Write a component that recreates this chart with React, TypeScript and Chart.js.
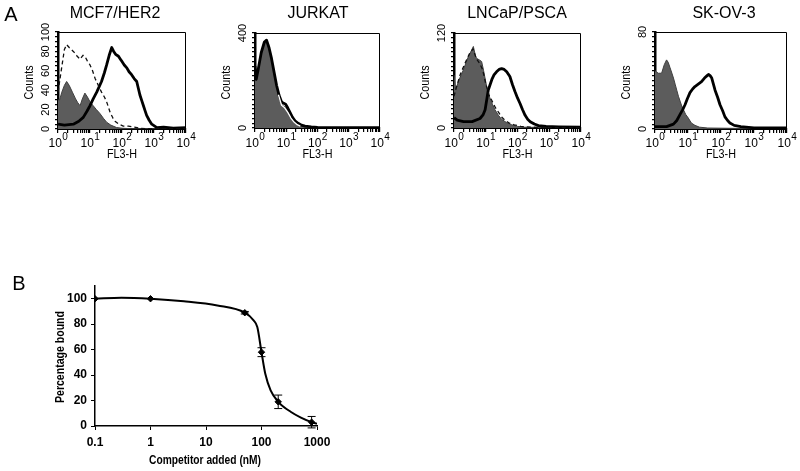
import React, { useEffect, useRef } from 'react';
import { Chart, registerables } from 'chart.js';
Chart.register(...registerables);

const SANS = '"Liberation Sans", Arial, Helvetica, sans-serif';
const NARROW = '"Liberation Sans Narrow", "Arial Narrow", "Liberation Sans", Arial, sans-serif';

// ---------- Panel A : FL3-H (log10 decades) vs counts ----------
const decadeLabels = ['0', '1', '2', '3', '4'];

// MCF7/HER2
const mcfFillX = [0, 0.05, 0.12, 0.2, 0.27, 0.35, 0.45, 0.55, 0.62, 0.69, 0.76, 0.84, 0.92, 1.0, 1.1, 1.2, 1.31, 1.42, 1.52, 1.65, 1.83, 2.0, 2.3, 4.0];
const mcfFillY = [30, 30, 38, 45, 49, 45, 38, 31, 27, 24, 31, 37, 33, 28, 24, 20, 16, 11, 7, 4, 1.5, 0.8, 0.3, 0];
const mcfDashX = [0, 0.1, 0.2, 0.27, 0.35, 0.48, 0.6, 0.69, 0.78, 0.84, 0.92, 1.0, 1.08, 1.16, 1.26, 1.36, 1.45, 1.52, 1.63, 1.72, 1.78, 1.9, 2.04, 2.2, 2.39, 2.6, 4.0];
const mcfDashY = [38, 60, 82, 87, 84, 80, 75, 72, 76, 75, 70, 66, 60, 52, 45, 38, 33, 28, 17, 11, 8, 5, 3, 3, 2, 0.5, 0];
const mcfSolidX = [0, 0.2, 0.48, 0.65, 0.79, 0.9, 1.0, 1.1, 1.21, 1.36, 1.45, 1.52, 1.6, 1.68, 1.74, 1.8, 1.89, 1.95, 1.99, 2.07, 2.15, 2.22, 2.3, 2.38, 2.46, 2.51, 2.56, 2.62, 2.67, 2.72, 2.77, 2.85, 2.93, 3.09, 3.3, 3.6, 4.0];
const mcfSolidY = [5, 4, 5, 8, 12, 18, 24, 31, 38, 49, 58, 66, 76, 84, 80, 77, 75, 72, 70, 66, 63, 59, 56, 52, 49, 42, 35, 29, 24, 19, 14, 9, 5, 1.5, 2, 1, 1.5];

// JURKAT
const jurFillX = [0, 0.04, 0.1, 0.2, 0.3, 0.37, 0.45, 0.53, 0.61, 0.69, 0.77, 0.85, 0.92, 0.98, 1.05, 1.12, 1.2, 1.28, 1.38, 1.49, 1.7, 2.0, 4.0];
const jurFillY = [257, 200, 240, 310, 355, 363, 330, 286, 230, 174, 130, 100, 92, 88, 70, 52, 35, 22, 13, 8, 3, 1, 0];
const jurSolidX = [0, 0.04, 0.1, 0.2, 0.3, 0.37, 0.45, 0.53, 0.61, 0.69, 0.77, 0.85, 0.92, 0.98, 1.05, 1.12, 1.2, 1.28, 1.38, 1.49, 1.6, 1.8, 2.0, 2.5, 3.0, 4.0];
const jurSolidY = [260, 205, 245, 318, 362, 370, 338, 292, 236, 180, 138, 110, 104, 100, 84, 66, 45, 30, 20, 12, 8, 5, 3, 2, 2, 2];
const jurWhiteX = [0.75, 0.85, 0.95, 1.05, 1.15, 1.25, 1.35, 1.45];
const jurWhiteY = [140, 96, 85, 66, 42, 25, 14, 8];

// LNCaP/PSCA
const lnFillX = [0, 0.05, 0.15, 0.29, 0.45, 0.55, 0.61, 0.67, 0.71, 0.8, 0.87, 0.93, 1.03, 1.13, 1.21, 1.29, 1.4, 1.5, 1.65, 1.82, 2.0, 2.2, 4.0];
const lnFillY = [67, 48, 60, 73, 90, 98, 103, 92, 88, 86, 84, 73, 52, 38, 30, 23, 16, 11, 7, 4, 2, 1, 0];
const lnDashX = [0, 0.08, 0.2, 0.35, 0.5, 0.6, 0.7, 0.8, 0.9, 1.0, 1.1, 1.2, 1.3, 1.4, 1.5, 1.6, 1.75, 1.9, 2.1, 2.4, 4.0];
const lnDashY = [40, 52, 68, 82, 95, 100, 88, 82, 74, 56, 42, 34, 26, 20, 14, 10, 6, 4, 2, 1, 0];
const lnSolidX = [0, 0.1, 0.3, 0.57, 0.82, 0.92, 0.98, 1.04, 1.08, 1.19, 1.26, 1.34, 1.42, 1.5, 1.58, 1.66, 1.76, 1.84, 1.92, 2.0, 2.08, 2.16, 2.24, 2.32, 2.4, 2.53, 2.66, 2.9, 3.3, 4.0];
const lnSolidY = [13, 10, 8, 8, 12, 17, 23, 38, 48, 61, 67, 71, 74, 75, 74, 71, 65, 55, 46, 38, 31, 23, 16, 11, 8, 5, 3, 2, 1.5, 1];

// SK-OV-3
const skFillX = [0, 0.1, 0.2, 0.28, 0.35, 0.4, 0.45, 0.5, 0.56, 0.61, 0.66, 0.71, 0.76, 0.81, 0.86, 0.93, 1.01, 1.1, 1.21, 1.35, 1.6, 4.0];
const skFillY = [48, 46, 46, 53, 57, 55, 51, 47, 42, 37, 32, 27, 23, 19, 16, 12, 9, 5, 3, 1.5, 0.8, 0];
const skSolidX = [0, 0.35, 0.56, 0.66, 0.76, 0.84, 0.91, 0.98, 1.06, 1.14, 1.21, 1.31, 1.41, 1.5, 1.58, 1.62, 1.67, 1.72, 1.77, 1.82, 1.9, 1.97, 2.05, 2.12, 2.2, 2.27, 2.4, 2.6, 3.0, 4.0];
const skSolidY = [2, 2, 4, 7, 12, 16, 20, 25, 30, 33, 35, 37, 39, 42, 44, 45, 44, 42, 37, 32, 26, 20, 15, 10, 7, 5, 3, 2, 1, 1];

// ---------- Panel B : competition curve ----------
const compX = [0.1, 1, 50, 100, 200, 800];
const compY = [100, 100, 89, 58, 19, 3];
const compErr = [0, 0, 1, 3.5, 5.3, 4.5];
const curveX = [0.1, 0.3, 1, 4, 16, 50, 72, 84, 100, 117, 146, 200, 340, 513, 800, 1000];
const curveY = [100, 100.8, 100, 98, 94.7, 89, 83, 77.7, 58, 41, 28, 19, 11, 6.6, 3, 1.8];
const compXTicks = [0.1, 1, 10, 100, 1000];
const compYTicks = [0, 20, 40, 60, 80, 100];

const zip = (xs: number[], ys: number[]) => xs.map((x, i) => ({ x, y: ys[i] }));

type Kind = 'fill' | 'solid' | 'dashed' | 'white';
interface Series { kind: Kind; xs: number[]; ys: number[] }
interface HistSpec {
  width: number; height: number;
  aLeft: number; aRight: number; aTop: number; aBottom: number;
  yMax: number; yLabels: number[];
  title: string; titleX: number; letter?: string;
  series: Series[];
}

function histConfig(p: HistSpec): any {
  const datasets = p.series.map((s) => {
    const base: any = { data: zip(s.xs, s.ys), pointRadius: 0, tension: 0, borderJoinStyle: 'round' };
    if (s.kind === 'fill') return { ...base, fill: 'origin', backgroundColor: '#5c5c5c', borderColor: '#3f3f3f', borderWidth: 1, order: 4 };
    if (s.kind === 'solid') return { ...base, fill: false, borderColor: '#000', borderWidth: 2.8, order: 2 };
    if (s.kind === 'dashed') return { ...base, fill: false, borderColor: '#111', borderWidth: 1.3, borderDash: [4, 3], order: 1 };
    return { ...base, fill: false, borderColor: '#fff', borderWidth: 1.3, order: 0 };
  });
  const deco = {
    id: 'histDeco',
    afterDraw(chart: any) {
      const { ctx, chartArea: a, scales } = chart;
      const x = scales.x, y = scales.y;
      ctx.save();
      ctx.strokeStyle = '#000';
      ctx.lineWidth = 1;
      ctx.beginPath();
      ctx.moveTo(a.left, a.top + 0.5);
      ctx.lineTo(a.right - 0.5, a.top + 0.5);
      ctx.lineTo(a.right - 0.5, a.bottom);
      ctx.stroke();
      ctx.fillStyle = '#000';
      // x decade labels 10^n
      decadeLabels.forEach((lab, d) => {
        const px = x.getPixelForValue(d);
        ctx.font = `12px ${SANS}`;
        const w1 = ctx.measureText('10').width;
        ctx.font = `10px ${SANS}`;
        const w2 = ctx.measureText(lab).width;
        const start = px - (w1 + w2) / 2;
        ctx.textAlign = 'left';
        ctx.textBaseline = 'middle';
        ctx.font = `12px ${SANS}`;
        ctx.fillText('10', start, 144);
        ctx.font = `10px ${SANS}`;
        ctx.fillText(lab, start + w1 + 0.3, 137.5);
      });
      // y labels rotated
      ctx.font = `11px ${SANS}`;
      ctx.textAlign = 'center';
      ctx.textBaseline = 'middle';
      p.yLabels.forEach((v) => {
        const py = y.getPixelForValue(v);
        ctx.save();
        ctx.translate(a.left - 12, py);
        ctx.rotate(-Math.PI / 2);
        ctx.fillText(String(v), 0, 0);
        ctx.restore();
      });
      ctx.save();
      ctx.translate(a.left - 28, (a.top + a.bottom) / 2 + 2);
      ctx.rotate(-Math.PI / 2);
      ctx.font = `12px ${SANS}`;
      ctx.fillText('Counts', 0, 0, 34);
      ctx.restore();
      ctx.font = `12px ${SANS}`;
      ctx.fillText('FL3-H', (a.left + a.right) / 2, 155, 30);
      ctx.font = `16px ${SANS}`;
      ctx.fillText(p.title, p.titleX, 14);
      if (p.letter) {
        ctx.font = `20px ${SANS}`;
        ctx.fillText(p.letter, 11, 15);
      }
      ctx.restore();
    },
  };
  const xH = p.height - p.aBottom;
  const yW = p.aLeft;
  return {
    type: 'line',
    data: { datasets },
    options: {
      responsive: false,
      maintainAspectRatio: false,
      animation: false,
      events: [],
      layout: { padding: { left: 0, top: p.aTop, right: p.width - p.aRight, bottom: 0 } },
      plugins: { legend: { display: false }, tooltip: { enabled: false }, title: { display: false } },
      scales: {
        x: {
          type: 'linear', min: 0, max: 4,
          afterBuildTicks: (s: any) => {
            const t: any[] = [];
            for (let d = 0; d < 4; d++) for (let k = 1; k < 10; k++) t.push({ value: d + Math.log10(k) });
            t.push({ value: 4 });
            s.ticks = t;
          },
          afterFit: (s: any) => { s.height = xH; },
          ticks: { display: false },
          grid: { drawOnChartArea: false, drawTicks: true, tickLength: 4, color: '#000', lineWidth: 1.2 },
          border: { display: true, color: '#000', width: 2 },
        },
        y: {
          type: 'linear', min: 0, max: p.yMax,
          afterBuildTicks: (s: any) => {
            const t: any[] = [];
            for (let i = 0; i <= 20; i++) t.push({ value: (p.yMax * i) / 20 });
            s.ticks = t;
          },
          afterFit: (s: any) => { s.width = yW; },
          ticks: { display: false },
          grid: { drawOnChartArea: false, drawTicks: true, tickLength: 3, color: '#000', lineWidth: 1.2 },
          border: { display: true, color: '#000', width: 2.5 },
        },
      },
    },
    plugins: [deco],
  };
}

function compConfig(): any {
  const W = 400, H = 216, aLeft = 95, aRight = 317, aTop = 31, aBottom = 171;
  const deco = {
    id: 'compDeco',
    afterDatasetsDraw(chart: any) {
      const { ctx, scales } = chart;
      const x = scales.x, y = scales.y;
      ctx.save();
      ctx.strokeStyle = '#000';
      ctx.lineWidth = 1;
      compX.forEach((cx, i) => {
        const e = compErr[i];
        if (e <= 0) return;
        const px = x.getPixelForValue(cx);
        const pt = y.getPixelForValue(compY[i] + e);
        const pb = y.getPixelForValue(compY[i] - e);
        ctx.beginPath();
        ctx.moveTo(px, pt); ctx.lineTo(px, pb);
        ctx.moveTo(px - 4, pt); ctx.lineTo(px + 4, pt);
        ctx.moveTo(px - 4, pb); ctx.lineTo(px + 4, pb);
        ctx.stroke();
      });
      ctx.restore();
    },
    afterDraw(chart: any) {
      const { ctx } = chart;
      ctx.save();
      ctx.fillStyle = '#000';
      ctx.textAlign = 'center';
      ctx.textBaseline = 'middle';
      ctx.font = `20px ${SANS}`;
      ctx.fillText('B', 19, 29);
      ctx.font = `bold 13px ${NARROW}`;
      ctx.fillText('Competitor added (nM)', 205, 205, 112);
      ctx.save();
      ctx.translate(60, 102);
      ctx.rotate(-Math.PI / 2);
      ctx.fillText('Percentage bound', 0, 0, 92);
      ctx.restore();
      ctx.restore();
    },
  };
  return {
    type: 'line',
    data: {
      datasets: [
        {
          data: zip(compX, compY), showLine: false, pointStyle: 'rectRot', pointRadius: 3.2,
          pointBackgroundColor: '#000', pointBorderColor: '#000', order: 0,
        },
        {
          data: zip(curveX, curveY), showLine: true, pointRadius: 0, borderColor: '#000', borderWidth: 2,
          cubicInterpolationMode: 'monotone', fill: false, order: 1,
        },
      ],
    },
    options: {
      responsive: false,
      maintainAspectRatio: false,
      animation: false,
      events: [],
      layout: { padding: { left: 0, top: aTop, right: W - aRight, bottom: 0 } },
      plugins: { legend: { display: false }, tooltip: { enabled: false } },
      scales: {
        x: {
          type: 'logarithmic', min: 0.1, max: 1000,
          afterBuildTicks: (s: any) => { s.ticks = compXTicks.map((v) => ({ value: v, major: true })); },
          afterFit: (s: any) => { s.height = H - aBottom; },
          ticks: {
            callback: (v: any) => String(v), color: '#000', padding: 5, maxRotation: 0, autoSkip: false,
            font: { family: NARROW, size: 12, weight: 'bold' },
          },
          grid: { drawOnChartArea: false, drawTicks: true, tickLength: 4, color: '#000', lineWidth: 1 },
          border: { display: true, color: '#000', width: 1.5 },
        },
        y: {
          type: 'linear', min: 0, max: 110,
          afterBuildTicks: (s: any) => { s.ticks = compYTicks.map((v) => ({ value: v })); },
          afterFit: (s: any) => { s.width = aLeft; },
          ticks: {
            color: '#000', padding: 4,
            font: { family: NARROW, size: 12, weight: 'bold' },
          },
          grid: { drawOnChartArea: false, drawTicks: true, tickLength: 4, color: '#000', lineWidth: 1 },
          border: { display: true, color: '#000', width: 1.5 },
        },
      },
    },
    plugins: [deco],
  };
}

function ChartBox(props: { left: number; top: number; width: number; height: number; make: () => any }) {
  const ref = useRef<HTMLCanvasElement>(null);
  useEffect(() => {
    const chart = new Chart(ref.current as HTMLCanvasElement, props.make());
    return () => chart.destroy();
  }, []);
  return (
    <canvas
      ref={ref}
      width={props.width}
      height={props.height}
      style={{ position: 'absolute', left: props.left, top: props.top, width: props.width, height: props.height }}
    />
  );
}

const panels: { left: number; spec: HistSpec }[] = [
  {
    left: 0,
    spec: {
      width: 200, height: 170, aLeft: 58, aRight: 186, aTop: 32, aBottom: 129,
      yMax: 100, yLabels: [0, 20, 40, 60, 80, 100], title: 'MCF7/HER2', titleX: 115, letter: 'A',
      series: [
        { kind: 'fill', xs: mcfFillX, ys: mcfFillY },
        { kind: 'dashed', xs: mcfDashX, ys: mcfDashY },
        { kind: 'solid', xs: mcfSolidX, ys: mcfSolidY },
      ],
    },
  },
  {
    left: 200,
    spec: {
      width: 198, height: 170, aLeft: 55, aRight: 180, aTop: 33, aBottom: 128,
      yMax: 400, yLabels: [0, 400], title: 'JURKAT', titleX: 118,
      series: [
        { kind: 'fill', xs: jurFillX, ys: jurFillY },
        { kind: 'solid', xs: jurSolidX, ys: jurSolidY },
        { kind: 'white', xs: jurWhiteX, ys: jurWhiteY },
      ],
    },
  },
  {
    left: 398,
    spec: {
      width: 200, height: 170, aLeft: 56, aRight: 183, aTop: 33, aBottom: 128,
      yMax: 120, yLabels: [0, 120], title: 'LNCaP/PSCA', titleX: 119,
      series: [
        { kind: 'fill', xs: lnFillX, ys: lnFillY },
        { kind: 'dashed', xs: lnDashX, ys: lnDashY },
        { kind: 'solid', xs: lnSolidX, ys: lnSolidY },
      ],
    },
  },
  {
    left: 598,
    spec: {
      width: 202, height: 170, aLeft: 57, aRight: 189, aTop: 32, aBottom: 129,
      yMax: 80, yLabels: [0, 80], title: 'SK-OV-3', titleX: 126,
      series: [
        { kind: 'fill', xs: skFillX, ys: skFillY },
        { kind: 'solid', xs: skSolidX, ys: skSolidY },
      ],
    },
  },
];

export default function App() {
  return (
    <div style={{ position: 'absolute', left: 0, top: 0, width: 800, height: 471, background: '#fff', overflow: 'hidden' }}>
      {panels.map((p, i) => (
        <ChartBox key={i} left={p.left} top={0} width={p.spec.width} height={p.spec.height} make={() => histConfig(p.spec)} />
      ))}
      <ChartBox left={0} top={255} width={400} height={216} make={compConfig} />
    </div>
  );
}
